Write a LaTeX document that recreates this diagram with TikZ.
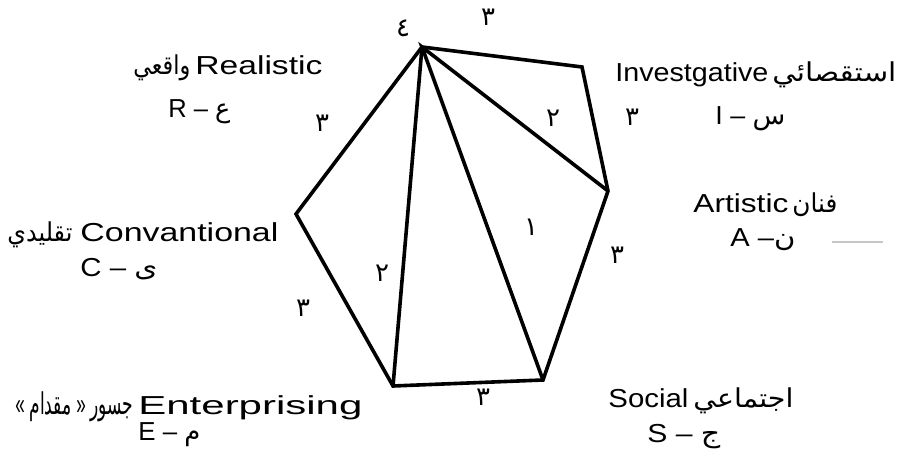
\documentclass[tikz,border=0pt]{standalone}
\usepackage{fontspec}
\setmainfont{Liberation Sans}
\newfontfamily\arabicfont[Script=Arabic]{DejaVu Sans}
\TeXXeTstate=1
\usepackage{graphicx}
\newcommand{\fitw}[2]{\resizebox{#1pt}{\height}{#2}}
\newcommand{\ar}[1]{{\arabicfont\beginR #1\endR}}
\begin{document}
\begin{tikzpicture}[x=0.5pt,y=-0.5pt,
  edge/.style={line width=1.8pt,black},
  en/.style={font=\fontsize{13}{15}\selectfont,inner sep=0pt,anchor=base west},
  num/.style={font=\arabicfont\fontsize{13}{15}\selectfont,inner sep=0pt},
  scan/.style={gray!45,line width=0.8pt}]
  \useasboundingbox (0,0) rectangle (897,474);
  % corners of the hexagon
  \coordinate (R) at (422,47);
  \coordinate (I) at (582,67);
  \coordinate (A) at (608,191);
  \coordinate (S) at (543,380);
  \coordinate (E) at (393,386);
  \coordinate (C) at (296,214);
  % sides and diagonals
  \draw[edge] (R) -- (I) -- (A) -- (S) -- (E) -- (C) -- cycle;
  \draw[edge] (A) -- (R) -- (S);
  \draw[edge] (R) -- (E);
  % counts on the sides
  \node[num] (n4) at (403,28) {٤};
  \node[num] (nRI) at (488,17) {٣};
  \node[num] (nRA) at (553,118) {٢};
  \node[num] (nIA) at (632,117) {٣};
  \node[num] (nRC) at (322,123) {٣};
  \node[num] (nRS) at (531,227) {١};
  \node[num] (nAS) at (617,255) {٣};
  \node[num] (nRE) at (382,273) {٢};
  \node[num] (nCE) at (303,308) {٣};
  \node[num] (nES) at (483,397) {٣};
  % Realistic
  \node[en] (realAr) at (133,75) {\fitw{28.5}{\ar{واقعي}}};
  \node[en] (realEn) at (195,75) {\fitw{63.5}{Realistic}};
  \node[en] (realCd) at (168,118) {\fitw{31}{R – \ar{ع}}};
  % Investgative
  \node[en] (invEn) at (615,82) {\fitw{76.5}{Investgative}};
  \node[en] (invAr) at (772,82) {\fitw{62}{\ar{استقصائي}}};
  \node[en] (invCd) at (715,125) {\fitw{35}{I – \ar{س}}};
  % Convantional
  \node[en] (conAr) at (7,242) {\fitw{32.5}{\ar{تقليدي}}};
  \node[en] (conEn) at (80,242) {\fitw{99}{Convantional}};
  \node[en] (conCd) at (80,277) {\fitw{38.5}{C – \ar{ى}}};
  % Artistic
  \node[en] (artEn) at (693,213) {\fitw{47.5}{Artistic}};
  \node[en] (artAr) at (792,213) {\fitw{22.5}{\ar{فنان}}};
  \node[en] (artCd) at (730,247) {\fitw{32.5}{A –\ar{ن}}};
  \coordinate (scanL) at (832,242);
  \coordinate (scanR) at (883,242);
  \draw[scan] (scanL) -- (scanR);
  % Enterprising
  \node[en,font=\fontsize{15}{17}\selectfont] (entAr) at (15,415)
    {\fitw{59}{« \ar{مقدام} » \ar{جسور}}};
  \node[en] (entEn) at (138,415) {\fitw{112}{Enterprising}};
  \node[en] (entCd) at (138,440) {\fitw{31}{E – \ar{م}}};
  % Social
  \node[en] (socEn) at (608,408) {\fitw{40}{Social}};
  \node[en] (socAr) at (693,408) {\fitw{50}{\ar{اجتماعي}}};
  \node[en] (socCd) at (647,443) {\fitw{36.5}{S – \ar{ج}}};
\end{tikzpicture}
\end{document}
